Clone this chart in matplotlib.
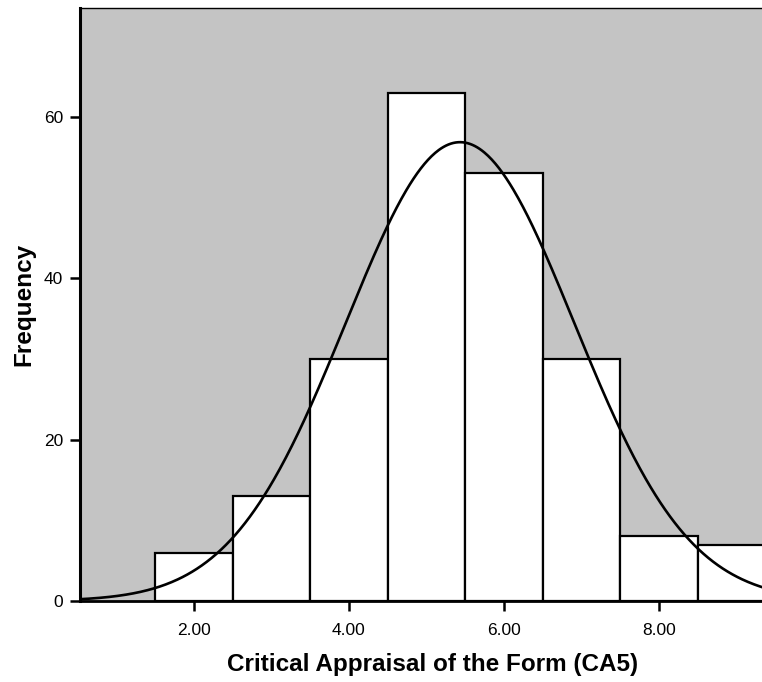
import numpy as np
import matplotlib
matplotlib.use("Agg")
import matplotlib.pyplot as plt

plt.rcParams['font.family'] = ['Liberation Sans', 'DejaVu Sans']

# Histogram of CA5 scores: bins of width 1 centred on integer scores
bin_centers = [2, 3, 4, 5, 6, 7, 8, 9]
counts = [6, 13, 30, 63, 53, 30, 8, 7]
x_ticks = [2.0, 4.0, 6.0, 8.0]
x_tick_labels = ["2.00", "4.00", "6.00", "8.00"]
y_ticks = [0, 20, 40, 60]

bin_width = 1.0
centers = np.array(bin_centers, dtype=float)
freq = np.array(counts, dtype=float)
n = freq.sum()
mean = (centers * freq).sum() / n
sd = np.sqrt(((centers - mean) ** 2 * freq).sum() / (n - 1))

fig = plt.figure(figsize=(7.62, 6.82), dpi=100)
ax = fig.add_axes([80 / 762, 1 - 601 / 682, 1 - 80 / 762, (601 - 8) / 682])
ax.set_facecolor("#c4c4c4")

ax.bar(centers, freq, width=bin_width, color="white", edgecolor="black",
       linewidth=1.6, zorder=2)

# Fitted normal curve scaled to the histogram
xs = np.linspace(0.3, 9.6, 600)
curve = n * bin_width / (sd * np.sqrt(2 * np.pi)) * np.exp(-0.5 * ((xs - mean) / sd) ** 2)
ax.plot(xs, curve, color="black", linewidth=1.9, zorder=3)

ax.set_xlim(0.53, 9.33)
ax.set_ylim(0, 73.5)
ax.set_xticks(x_ticks)
ax.set_xticklabels(x_tick_labels)
ax.set_yticks(y_ticks)

ax.spines["right"].set_visible(False)
ax.spines["top"].set_linewidth(1.0)
ax.spines["left"].set_linewidth(2.2)
ax.spines["bottom"].set_linewidth(2.0)

ax.tick_params(axis="both", direction="out", length=7, width=1.8,
               labelsize=12.5, pad=5)
ax.tick_params(axis="x", pad=9)

ax.set_xlabel("Critical Appraisal of the Form (CA5)", fontsize=17.5,
              fontweight="bold")
ax.xaxis.set_label_coords(0.5176, -0.088)
ax.xaxis.label.set_verticalalignment("top")
ax.set_ylabel("Frequency", fontsize=17.5, fontweight="bold", labelpad=6)

fig.savefig("out.png", dpi=100)
